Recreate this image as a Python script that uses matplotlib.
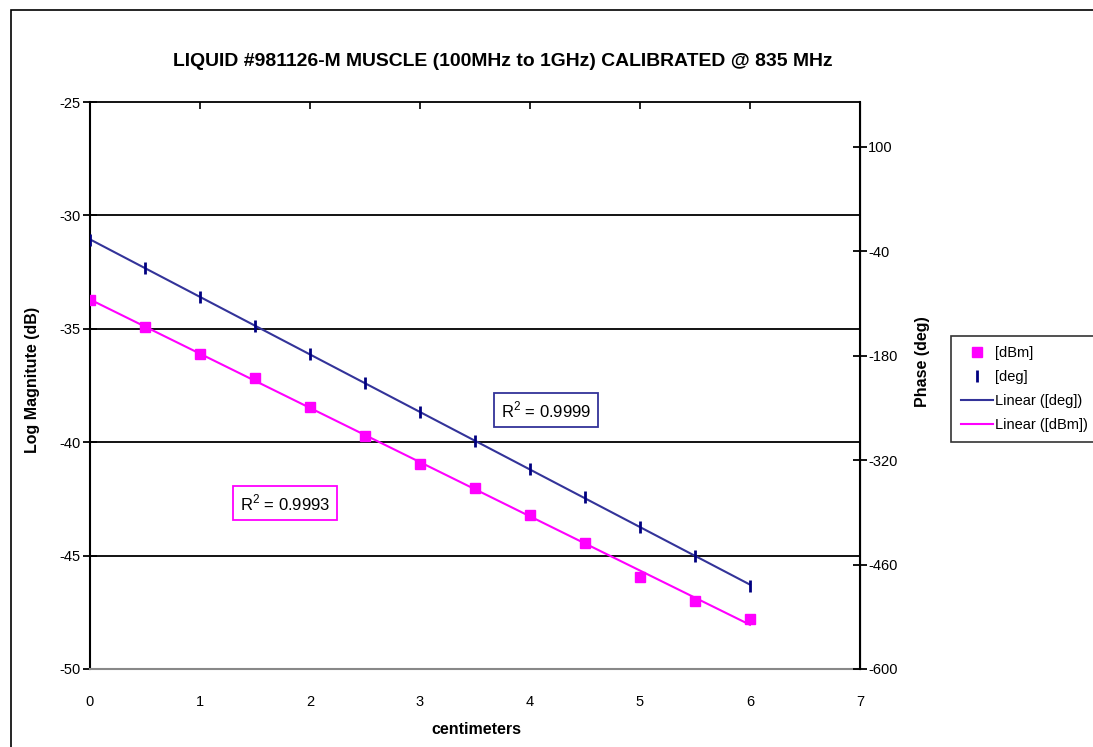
import numpy as np
import matplotlib.pyplot as plt
from matplotlib.patches import Rectangle

plt.rcParams['font.family'] = ['Liberation Sans', 'DejaVu Sans']
plt.rcParams['axes.unicode_minus'] = False
plt.rcParams['mathtext.fontset'] = 'custom'
plt.rcParams['mathtext.rm'] = 'Liberation Sans'

# Data
cm = [0, 0.5, 1, 1.5, 2, 2.5, 3, 3.5, 4, 4.5, 5, 5.5, 6]
dbm = [-33.73, -34.91, -36.12, -37.18, -38.43, -39.73, -40.96,
       -42.03, -43.21, -44.43, -45.93, -46.99, -47.78]
deg = [-25.0, -62.9, -101.0, -140.2, -178.2, -216.2, -255.1,
       -294.4, -332.3, -369.9, -409.3, -448.5, -488.7]

r2_deg = r'$\mathrm{R}^{2}$ = 0.9999'
r2_dbm = r'$\mathrm{R}^{2}$ = 0.9993'

mag_color = '#FF00FF'
deg_color = '#000080'
trend_deg_color = '#333399'

fig = plt.figure(figsize=(10.93, 7.47), dpi=100)

# outer chart border
fig.patches.append(Rectangle((11 / 1093, -0.1), 1.2, 1 - 10 / 747 + 0.1,
                             transform=fig.transFigure, fill=False,
                             edgecolor='black', linewidth=1.2))

ax = fig.add_axes([90 / 1093, 1 - 669 / 747, 770 / 1093, 567 / 747])
ax2 = ax.twinx()

# trend lines
x = np.array(cm)
p_dbm = np.polyfit(x, dbm, 1)
p_deg = np.polyfit(x, deg, 1)
ax.plot(x, np.polyval(p_dbm, x), color=mag_color, lw=1.5, zorder=3,
        label='Linear ([dBm])')
ax2.plot(x, np.polyval(p_deg, x), color=trend_deg_color, lw=1.5, zorder=3,
         label='Linear ([deg])')

# data points
ax.plot(cm, dbm, linestyle='none', marker='s', markersize=7,
        color=mag_color, zorder=4, label='[dBm]')
ax2.plot(cm, deg, linestyle='none', marker='|', markersize=8,
         markeredgewidth=2, color=deg_color, zorder=4, label='[deg]')

ax.set_xlim(0, 7)
ax.set_ylim(-50, -25)
ax2.set_ylim(-600, 160)
ax.set_xticks(range(0, 8))
ax.set_yticks([-50, -45, -40, -35, -30, -25])
ax2.set_yticks([-600, -460, -320, -180, -40, 100])

for g in [-45, -40, -35, -30]:
    ax.axhline(g, color='black', lw=1.3, zorder=1)

ax.spines['top'].set_linewidth(1.3)
ax.spines['left'].set_linewidth(1.5)
ax.spines['bottom'].set_color('#888888')
ax.spines['bottom'].set_linewidth(1.5)
for sp in ['top', 'bottom', 'left']:
    ax2.spines[sp].set_visible(False)
ax2.spines['right'].set_linewidth(1.5)

ax.tick_params(axis='y', direction='inout', length=10, width=1.3,
               labelsize=10.5, pad=1.5)
ax.tick_params(axis='x', which='both', bottom=False, top=True,
               labelbottom=True, direction='in', length=5, width=1.2,
               labelsize=10.5, pad=19)
ax2.tick_params(axis='y', direction='inout', length=10, width=1.3,
                labelsize=10.5, pad=1)

fig.text(503 / 1093, 1 - 61 / 747,
         'LIQUID #981126-M MUSCLE (100MHz to 1GHz) CALIBRATED @ 835 MHz',
         ha='center', va='center', fontsize=13.95, fontweight='bold')
fig.text(33 / 1093, 1 - 380 / 747, 'Log Magnitute (dB)', rotation=90,
         ha='center', va='center', fontsize=11.5, fontweight='bold')
fig.text(922 / 1093, 1 - 362 / 747, 'Phase (deg)', rotation=90,
         ha='center', va='center', fontsize=11.5, fontweight='bold')
fig.text(476 / 1093, 1 - 730 / 747, 'centimeters',
         ha='center', va='center', fontsize=11.5, fontweight='bold')

fig.text(546 / 1093, 1 - 410 / 747, r2_deg, ha='center', va='center',
         fontsize=12,
         bbox=dict(boxstyle='square,pad=0.42', facecolor='white',
                   edgecolor=trend_deg_color, linewidth=1.3))
fig.text(285 / 1093, 1 - 503 / 747, r2_dbm, ha='center', va='center',
         fontsize=12,
         bbox=dict(boxstyle='square,pad=0.42', facecolor='white',
                   edgecolor=mag_color, linewidth=1.3))

h1, l1 = ax.get_legend_handles_labels()
h2, l2 = ax2.get_legend_handles_labels()
handles = {l: h for h, l in zip(h1 + h2, l1 + l2)}
order = ['[dBm]', '[deg]', 'Linear ([deg])', 'Linear ([dBm])']
leg = fig.legend([handles[k] for k in order], order,
                 loc='upper left', bbox_to_anchor=(951 / 1093, 1 - 336 / 747),
                 borderaxespad=0, fontsize=10.5, frameon=True, fancybox=False,
                 edgecolor='black', handlelength=2.2, handletextpad=0.15,
                 borderpad=0.7, labelspacing=0.68)
leg.get_frame().set_linewidth(1.2)

fig.savefig('out.png', dpi=100)
